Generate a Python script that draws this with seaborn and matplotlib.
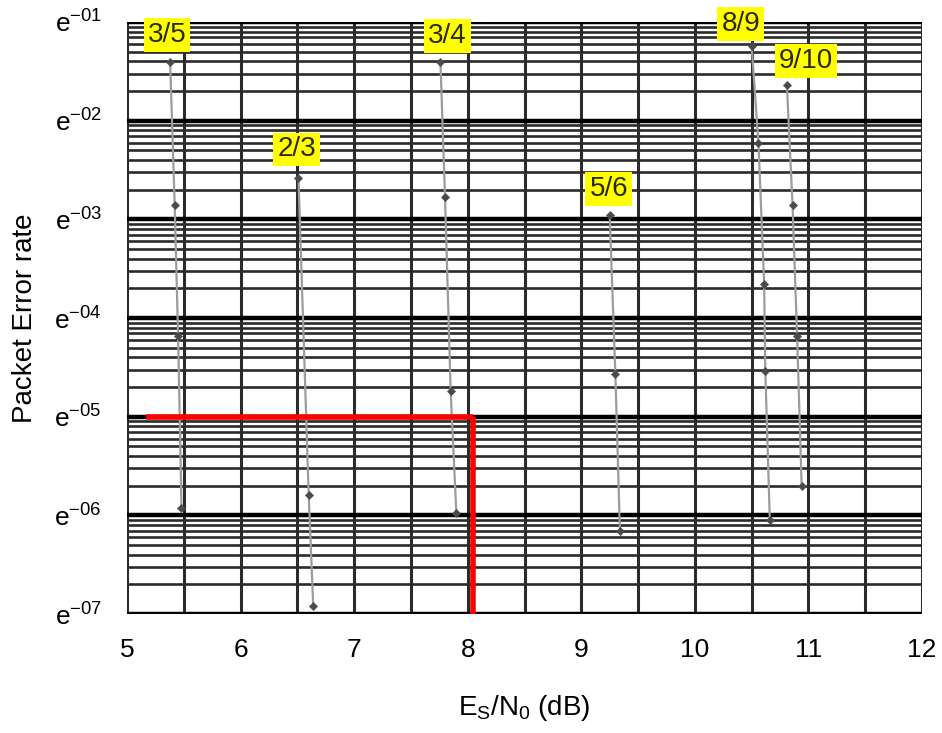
"""
PER vs Es/N0 per code rate, log-grid chart with yellow rate labels
and a red reference marker at PER 1e-5.
"""

import matplotlib
matplotlib.use("Agg")
import matplotlib.pyplot as plt
import matplotlib.ticker as mticker
import numpy as np
import pandas as pd
import seaborn as sns

### Data
RATES = ["3/5", "2/3", "3/4", "5/6", "8/9", "9/10"]
SNR_35 = [5.38, 5.42, 5.45, 5.48]
PER_35 = [3.9e-2, 1.4e-3, 6.6e-5, 1.2e-6]
SNR_23 = [6.51, 6.60, 6.64]
PER_23 = [2.6e-3, 1.6e-6, 1.2e-7]
SNR_34 = [7.76, 7.80, 7.85, 7.90]
PER_34 = [3.9e-2, 1.7e-3, 1.8e-5, 1.05e-6]
SNR_56 = [9.25, 9.30, 9.34]
PER_56 = [1.1e-3, 2.7e-5, 7.0e-7]
SNR_89 = [10.50, 10.56, 10.61, 10.62, 10.66]
PER_89 = [5.7e-2, 5.9e-3, 2.2e-4, 2.9e-5, 8.9e-7]
SNR_910 = [10.81, 10.86, 10.90, 10.94]
PER_910 = [2.3e-2, 1.4e-3, 6.6e-5, 2.0e-6]

SNR = [SNR_35, SNR_23, SNR_34, SNR_56, SNR_89, SNR_910]
PER = [PER_35, PER_23, PER_34, PER_56, PER_89, PER_910]

# red reference marker
REF_PER = 1e-5
REF_SNR = 8.05
REF_START = 5.17

X_TICKS = [5, 6, 7, 8, 9, 10, 11, 12]
Y_TICKS = [1e-1, 1e-2, 1e-3, 1e-4, 1e-5, 1e-6, 1e-7]
Y_LABELS = [r"e$^{\mathregular{-0%d}}$" % i for i in range(1, 8)]

### Layout / style (pixels -> points at dpi 100: * 0.72)
LABEL_OFFSETS = {"3/5": (-3, 27), "2/3": (-2, 29), "3/4": (7, 26),
                 "5/6": (-1, 26), "8/9": (-11, 22), "9/10": (19, 24)}
LINE_GREY = "#9c9c9c"
MARK_GREY = "#4a4a4a"
GRID_DARK = "#2b2b2b"
YELLOW = "#FFFF00"

sns.set_theme(style="white")
plt.rcParams.update({
    "font.family": ["Liberation Sans", "DejaVu Sans"],
    "mathtext.fontset": "custom",
    "mathtext.rm": "Liberation Sans",
    "mathtext.it": "Liberation Sans",
    "text.color": "black",
    "axes.labelcolor": "black",
    "xtick.color": "black",
    "ytick.color": "black",
})

df = pd.concat(
    [pd.DataFrame({"rate": r, "snr": x, "per": y})
     for r, x, y in zip(RATES, SNR, PER)],
    ignore_index=True,
)

fig = plt.figure(figsize=(9.42, 7.33), dpi=100)
ax = fig.add_axes([0.1348, 0.1623, 0.8440, 0.8077])

### Grid: 0.5 dB vertical lines, decades thick, minor log lines thinner
ax.set_yscale("log")
ax.set_xlim(5, 12)
ax.set_ylim(1e-7, 1e-1)
ax.xaxis.set_major_locator(mticker.FixedLocator(X_TICKS))
ax.xaxis.set_minor_locator(mticker.MultipleLocator(0.5))
ax.yaxis.set_major_locator(mticker.FixedLocator(Y_TICKS))
ax.yaxis.set_major_formatter(mticker.FixedFormatter(Y_LABELS))
ax.yaxis.set_minor_locator(mticker.LogLocator(base=10, subs=np.arange(2, 10)))
ax.yaxis.set_minor_formatter(mticker.NullFormatter())

ax.grid(True, which="major", axis="x", color=GRID_DARK, linewidth=2.2)
ax.grid(True, which="minor", axis="x", color=GRID_DARK, linewidth=2.2)
ax.grid(True, which="major", axis="y", color="black", linewidth=3.2)
ax.grid(True, which="minor", axis="y", color=GRID_DARK, linewidth=1.9)
ax.set_axisbelow(True)
for s in ax.spines.values():
    s.set_visible(False)

ax.tick_params(axis="x", which="major", length=9.5, width=2,
               color=GRID_DARK, labelcolor="black", labelsize=19, pad=8)
ax.tick_params(axis="x", which="minor", length=0)
ax.tick_params(axis="y", which="both", length=0, labelcolor="black",
               labelsize=19, pad=18)

### Curves
for rate in RATES:
    g = df[df["rate"] == rate]
    sns.lineplot(data=g, x="snr", y="per", sort=False, estimator=None,
                 color=LINE_GREY, linewidth=1.6, ax=ax, zorder=3)
    sns.scatterplot(data=g, x="snr", y="per", marker="D", s=18,
                    color=MARK_GREY, edgecolor=MARK_GREY, ax=ax, zorder=4)
    dx, dy = LABEL_OFFSETS[rate]
    ax.annotate(rate, xy=(g["snr"].iloc[0], g["per"].iloc[0]),
                xytext=(dx * 0.72, dy * 0.72), textcoords="offset points",
                ha="center", va="center", fontsize=20, color="#2a2a10",
                family=["Liberation Sans Narrow", "Liberation Sans"],
                bbox=dict(boxstyle="square,pad=0.14", fc=YELLOW, ec="none"),
                zorder=6)

### Red reference lines
ax.hlines(REF_PER, REF_START, REF_SNR, color="#ff0000", linewidth=4, zorder=5)
ax.vlines(REF_SNR, 1e-7, REF_PER, color="#ff0000", linewidth=4, zorder=5)

ax.set_xlabel(r"E$_{\mathregular{S}}$/N$_{\mathregular{0}}$ (dB)",
              fontsize=20, labelpad=22, color="black")
ax.set_ylabel("Packet Error rate", fontsize=20, labelpad=12, color="black")

fig.savefig("out.png", dpi=100, facecolor="white")
